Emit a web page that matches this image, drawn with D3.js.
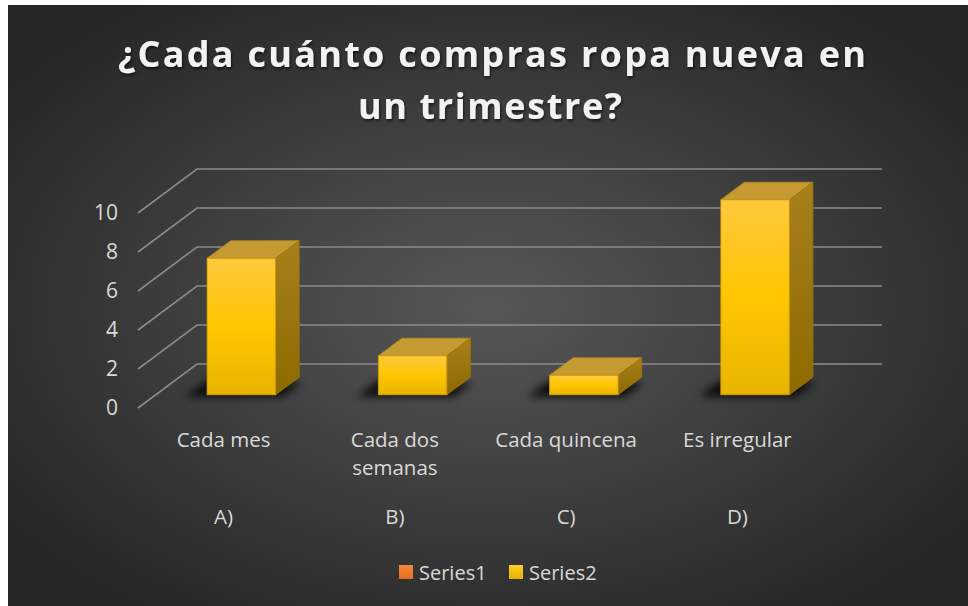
<!DOCTYPE html>
<html>
<head>
<meta charset="utf-8">
<script src="https://cdn.jsdelivr.net/npm/d3@7"></script>
<style>
  body { margin: 0; background: #fff; }
  svg { display: block; }
  text { font-family: "Open Sans", Lato, sans-serif; }
</style>
</head>
<body>
<svg width="968" height="606"></svg>
<script>
// chart data
const categories = ["Cada mes", "Cada dos semanas", "Cada quincena", "Es irregular"];
const groups = ["A)", "B)", "C)", "D)"];
const series1 = [null, null, null, null];
const series2 = [7, 2, 1, 10];
const yTicks = [0, 2, 4, 6, 8, 10];
const legendNames = ["Series1", "Series2"];

const svg = d3.select("svg");
const defs = svg.append("defs");

// background
const bg = defs.append("radialGradient").attr("id", "bg")
  .attr("cx", "50%").attr("cy", "50%").attr("r", "62%");
bg.append("stop").attr("offset", "0%").attr("stop-color", "#575757");
bg.append("stop").attr("offset", "100%").attr("stop-color", "#262626");
svg.append("rect").attr("x", 8).attr("y", 5).attr("width", 960).attr("height", 601)
  .attr("fill", "url(#bg)");

const front = defs.append("linearGradient").attr("id", "front")
  .attr("x1", 0).attr("y1", 0).attr("x2", 0).attr("y2", 1);
front.append("stop").attr("offset", "0%").attr("stop-color", "#ffc83d");
front.append("stop").attr("offset", "50%").attr("stop-color", "#ffc600");
front.append("stop").attr("offset", "100%").attr("stop-color", "#e8b400");

const side = defs.append("linearGradient").attr("id", "side")
  .attr("x1", 0).attr("y1", 0).attr("x2", 0).attr("y2", 1);
side.append("stop").attr("offset", "0%").attr("stop-color", "#a8801c");
side.append("stop").attr("offset", "100%").attr("stop-color", "#8d6a00");

const sq1 = defs.append("linearGradient").attr("id", "sq1")
  .attr("x1", 0).attr("y1", 0).attr("x2", 0).attr("y2", 1);
sq1.append("stop").attr("offset", "0%").attr("stop-color", "#f7873a");
sq1.append("stop").attr("offset", "100%").attr("stop-color", "#e0701e");
const sq2 = defs.append("linearGradient").attr("id", "sq2")
  .attr("x1", 0).attr("y1", 0).attr("x2", 0).attr("y2", 1);
sq2.append("stop").attr("offset", "0%").attr("stop-color", "#ffcb2a");
sq2.append("stop").attr("offset", "100%").attr("stop-color", "#e8b400");

defs.append("filter").attr("id", "blur").attr("x", "-50%").attr("y", "-50%")
  .attr("width", "200%").attr("height", "200%")
  .append("feGaussianBlur").attr("stdDeviation", 4);

const tsh = defs.append("filter").attr("id", "tshadow");
tsh.append("feDropShadow").attr("dx", 1).attr("dy", 2).attr("stdDeviation", 1.5)
  .attr("flood-color", "#000").attr("flood-opacity", 0.6);

// 3d layout
const depth = { dx: 59, dy: -44 };
const x = d3.scaleBand().domain(categories).range([138, 823]);
const y = d3.scaleLinear().domain([0, 10]).range([408, 213]);
const at = (px, py, t) => [px + depth.dx * t, py + depth.dy * t];

// back wall + gridlines
const grid = svg.append("g");
yTicks.forEach(v => {
  const p0 = [x.range()[0], y(v)];
  const p1 = at(p0[0], p0[1], 1);
  const p2 = at(x.range()[1], y(v), 1);
  grid.append("path")
    .attr("d", d3.line()([p0, p1, p2]))
    .attr("fill", "none").attr("stroke", "#8a8a8a").attr("stroke-width", 1.6);
});

// y tick labels
svg.append("g").selectAll("text").data(yTicks).join("text")
  .attr("x", 118).attr("y", d => y(d)).attr("dy", "0.35em")
  .attr("text-anchor", "end").attr("font-size", 21).attr("fill", "#d9d9d9")
  .text(d => d);

// bars
const barW = x.bandwidth() * 0.4;
const t0 = 0.3, t1 = 0.7;
const bars = categories.map((c, i) => ({ c, v: series2[i] }));

const shadows = svg.append("g").attr("filter", "url(#blur)");
bars.forEach(d => {
  const xl = x(d.c) + (x.bandwidth() - barW) / 2;
  const [ax, ay] = at(xl, y(0), t0);
  shadows.append("path")
    .attr("d", d3.line()([
      [ax - 22, ay + 2], [ax + barW + 6, ay + 2],
      [ax + barW + 6 + 20, ay - 12], [ax - 22 + 22, ay - 14]
    ]) + "Z")
    .attr("fill", "#000").attr("opacity", 0.85);
});

const g = svg.append("g");
bars.forEach(d => {
  const xl = x(d.c) + (x.bandwidth() - barW) / 2;
  const xr = xl + barW;
  const fl = at(xl, y(0), t0), fr = at(xr, y(0), t0);
  const tl = at(xl, y(d.v), t0), tr = at(xr, y(d.v), t0);
  const d3w = (t1 - t0);
  const br = [fr[0] + depth.dx * d3w, fr[1] + depth.dy * d3w];
  const tbr = [tr[0] + depth.dx * d3w, tr[1] + depth.dy * d3w];
  const tbl = [tl[0] + depth.dx * d3w, tl[1] + depth.dy * d3w];
  // top
  g.append("path").attr("d", d3.line()([tl, tr, tbr, tbl]) + "Z")
    .attr("fill", "#c69a33").attr("stroke", "#b08a20").attr("stroke-width", 0.8);
  // side
  g.append("path").attr("d", d3.line()([tr, tbr, br, fr]) + "Z")
    .attr("fill", "url(#side)").attr("stroke", "#9a7508").attr("stroke-width", 0.8);
  // front
  g.append("rect").attr("x", tl[0]).attr("y", tl[1])
    .attr("width", barW).attr("height", fl[1] - tl[1])
    .attr("fill", "url(#front)").attr("stroke", "#c99a0a").attr("stroke-width", 0.8);
});

// category labels
const lab = svg.append("g").attr("fill", "#d9d9d9").attr("font-size", 20.5)
  .attr("text-anchor", "middle");
const wrap = { "Cada dos semanas": ["Cada dos", "semanas"] };
categories.forEach((c, i) => {
  const cx = x(c) + x.bandwidth() / 2;
  const lines = wrap[c] || [c];
  const t = lab.append("text").attr("x", cx).attr("y", 447);
  lines.forEach((l, k) => t.append("tspan").attr("x", cx).attr("dy", k ? 28 : 0).text(l));
  lab.append("text").attr("x", cx).attr("y", 524).text(groups[i]);
});

// title
const title = svg.append("g").attr("fill", "#f2f2f2").attr("font-weight", "bold")
  .attr("font-size", 36).attr("text-anchor", "middle").attr("filter", "url(#tshadow)");
title.append("text").attr("x", 492).attr("y", 67)
  .attr("textLength", 748).attr("lengthAdjust", "spacing")
  .text("¿Cada cuánto compras ropa nueva en");
title.append("text").attr("x", 490).attr("y", 119)
  .attr("textLength", 264).attr("lengthAdjust", "spacing")
  .text("un trimestre?");

// legend
const leg = svg.append("g").attr("font-size", 20).attr("fill", "#d9d9d9");
[[399, "url(#sq1)"], [509, "url(#sq2)"]].forEach(([lx, fill], i) => {
  leg.append("rect").attr("x", lx).attr("y", 565).attr("width", 14).attr("height", 14).attr("fill", fill);
  leg.append("text").attr("x", lx + 20).attr("y", 580).text(legendNames[i]);
});
</script>
</body>
</html>
